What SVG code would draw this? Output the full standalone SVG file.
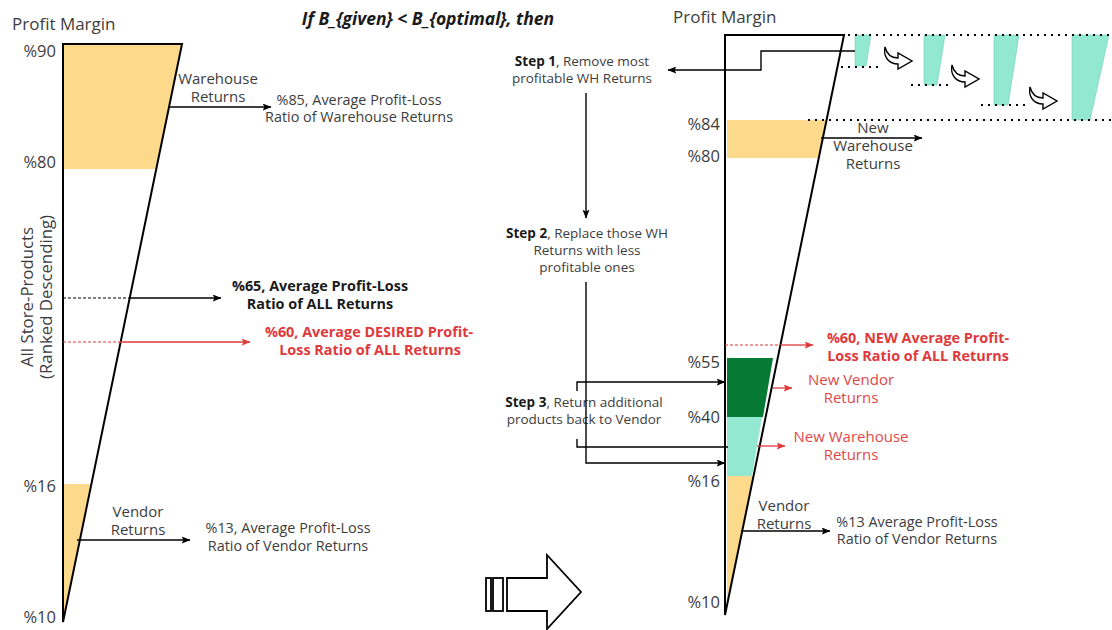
<svg xmlns="http://www.w3.org/2000/svg" width="1112" height="630" viewBox="0 0 1112 630">
<style>
text{font-family:"Open Sans","Noto Sans","Liberation Sans",sans-serif;fill:#3d3d3d}
.ax{font-size:16.5px}
.pm{font-size:17px}
.lb{font-size:15px}
.sm{font-size:14.4px}
.st{font-size:13.5px}
.b{font-weight:bold;fill:#1a1a1a}
.r{fill:#e0393b}
.rn{fill:#e04848}
.c{text-anchor:middle}
.e{text-anchor:end}
.chart{fill:none;stroke:#000;stroke-width:2;stroke-linejoin:miter}
.ln{fill:none;stroke:#000;stroke-width:1.4}
.lr{fill:none;stroke:#e0393b;stroke-width:1.3}
.dash{fill:none;stroke:#000;stroke-width:1.2;stroke-dasharray:3 2}
.dashr{fill:none;stroke:#e0393b;stroke-width:1.1;stroke-dasharray:3 2}
.dot{fill:none;stroke:#000;stroke-width:2;stroke-dasharray:2 5}
.yel{fill:#fdd98b}
.teal{fill:#92e8d0;stroke:#70cdb3;stroke-width:0.6}
.dg{fill:#067a35}
.curv{fill:#fff;stroke:#000;stroke-width:1.4;stroke-linejoin:miter}
</style>
<defs>
<marker id="ah" viewBox="0 0 10 8" refX="9.5" refY="4" markerWidth="9" markerHeight="7" markerUnits="userSpaceOnUse" orient="auto"><path d="M0,0 L10,4 L0,8 L2,4 Z" fill="#000"/></marker>
<marker id="ahr" viewBox="0 0 10 8" refX="9.5" refY="4" markerWidth="9" markerHeight="7" markerUnits="userSpaceOnUse" orient="auto"><path d="M0,0 L10,4 L0,8 L2,4 Z" fill="#e0393b"/></marker>
<path id="curved" d="M2,0 C4,8 9,11 15,11 L15,6 L29,14 L15,22 L15,17 C6,17 0,10 2,0 Z"/>
</defs>

<g id="title">
<text x="428" y="25" class="c" style="font-size:17.5px;font-weight:bold;font-style:italic;fill:#1a1a1a">If B_{given} &lt; B_{optimal}, then</text>
</g>

<g id="left-chart">
<polygon class="yel" points="63,44 182,44 156.3,169 63,169"/>
<polygon class="yel" points="63,484 91.4,484 63,622"/>
<polygon class="chart" points="63,44 182,44 63,622"/>
<text x="12" y="30" class="pm">Profit Margin</text>
<text x="56" y="57" class="ax e">%90</text>
<text x="56" y="168" class="ax e">%80</text>
<text x="56" y="492" class="ax e">%16</text>
<text x="56" y="623" class="ax e">%10</text>
<g transform="translate(0,297) rotate(-90)">
<text x="0" y="33" class="c" style="font-size:16.8px">All Store-Products</text>
<text x="0" y="52" class="c" style="font-size:16.8px">(Ranked Descending)</text>
</g>
</g>

<g id="left-warehouse-label">
<text x="218" y="84" class="lb c">Warehouse</text>
<text x="218" y="102" class="lb c">Returns</text>
</g>
<g id="left-warehouse-avg">
<text x="359" y="105" class="sm c">%85, Average Profit-Loss</text>
<text x="359" y="122" class="sm c">Ratio of Warehouse Returns</text>
</g>
<g id="left-all-avg">
<text x="320" y="291" class="sm c b">%65, Average Profit-Loss</text>
<text x="320" y="309" class="sm c b">Ratio of ALL Returns</text>
</g>
<g id="left-desired-avg">
<text x="369" y="337" class="sm c b r">%60, Average DESIRED Profit-</text>
<text x="370" y="355" class="sm c b r">Loss Ratio of ALL Returns</text>
</g>
<g id="left-vendor-label">
<text x="138" y="517" class="lb c">Vendor</text>
<text x="138" y="535" class="lb c">Returns</text>
</g>
<g id="left-vendor-avg">
<text x="288" y="533" class="sm c">%13, Average Profit-Loss</text>
<text x="288" y="551" class="sm c">Ratio of Vendor Returns</text>
</g>

<g id="right-chart">
<polygon class="yel" points="727,120 826.6,120 818.8,158 727,158"/>
<polygon class="dg" points="727,358 773,358 763,417 727,417"/>
<polygon class="teal" points="727,417 762,417 752,476 727,476" style="stroke:none"/>
<polygon class="yel" points="727,476 753.6,476 728,602 727,602"/>
<polygon class="chart" points="725,35 844,35 725,615"/>
<text x="673" y="23" class="pm">Profit Margin</text>
<text x="720" y="130" class="ax e">%84</text>
<text x="720" y="162" class="ax e">%80</text>
<text x="720" y="368" class="ax e">%55</text>
<text x="720" y="423" class="ax e">%40</text>
<text x="720" y="487" class="ax e">%16</text>
<text x="720" y="608" class="ax e">%10</text>
</g>

<g id="removal-sequence">
<polygon class="teal" points="855,35 871,35 866,66 855,66"/>
<polygon class="teal" points="924,35 945,35 937,85 924,85"/>
<polygon class="teal" points="994,35 1019,35 1008,105 994,105"/>
<polygon class="teal" points="1072,35 1109,35 1090,120 1072,120"/>
<line class="dot" x1="848" y1="35" x2="1112" y2="35"/>
<line class="dot" x1="808" y1="120" x2="1112" y2="120"/>
<line class="dot" x1="841" y1="67" x2="880" y2="67"/>
<line class="dot" x1="911" y1="85" x2="949" y2="85"/>
<line class="dot" x1="981" y1="105" x2="1025" y2="105"/>
<use href="#curved" class="curv" transform="translate(883,47)"/>
<use href="#curved" class="curv" transform="translate(950,65)"/>
<use href="#curved" class="curv" transform="translate(1028,87)"/>
</g>

<g id="right-new-warehouse-label">
<text x="873" y="133" class="lb c">New</text>
<text x="873" y="151" class="lb c">Warehouse</text>
<text x="873" y="169" class="lb c">Returns</text>
</g>

<g id="step1">
<text x="582" y="66" class="st c"><tspan class="b">Step 1</tspan>, Remove most</text>
<text x="582" y="83" class="st c">profitable WH Returns</text>
</g>
<g id="step2">
<text x="587" y="238" class="st c"><tspan class="b">Step 2</tspan>, Replace those WH</text>
<text x="587" y="255" class="st c">Returns with less</text>
<text x="587" y="272" class="st c">profitable ones</text>
</g>
<g id="step3">
<text x="584" y="407" class="st c"><tspan class="b">Step 3</tspan>, Return additional</text>
<text x="584" y="424" class="st c">products back to Vendor</text>
</g>

<g id="right-new-avg">
<text x="918" y="343" class="sm c b r">%60, NEW Average Profit-</text>
<text x="918" y="361" class="sm c b r">Loss Ratio of ALL Returns</text>
</g>
<g id="right-new-vendor">
<text x="851" y="385" class="lb c rn">New Vendor</text>
<text x="851" y="403" class="lb c rn">Returns</text>
</g>
<g id="right-new-wh">
<text x="851" y="442" class="lb c rn">New Warehouse</text>
<text x="851" y="460" class="lb c rn">Returns</text>
</g>
<g id="right-vendor-label">
<text x="784" y="511" class="lb c">Vendor</text>
<text x="784" y="529" class="lb c">Returns</text>
</g>
<g id="right-vendor-avg">
<text x="917" y="527" class="sm c">%13 Average Profit-Loss</text>
<text x="917" y="544" class="sm c">Ratio of Vendor Returns</text>
</g>

<g id="transition-arrow">
<rect x="486" y="578" width="5" height="33" fill="#fff" stroke="#000" stroke-width="1.8"/>
<rect x="493" y="578" width="10" height="33" fill="#fff" stroke="#000" stroke-width="1.8"/>
<polygon points="507,578 547,578 547,555 581,592 547,629 547,611 507,611" fill="#fff" stroke="#000" stroke-width="1.8"/>
</g>

<g id="connectors">
<line class="ln" x1="169" y1="107" x2="271" y2="107" marker-end="url(#ah)"/>
<line class="dash" x1="63" y1="298" x2="129" y2="298"/>
<line class="ln" x1="129" y1="298" x2="221" y2="298" marker-end="url(#ah)"/>
<line class="dashr" x1="63" y1="342" x2="120" y2="342"/>
<line class="lr" x1="120" y1="342" x2="250" y2="342" marker-end="url(#ahr)"/>
<line class="ln" x1="77" y1="540" x2="190" y2="540" marker-end="url(#ah)"/>

<polyline class="ln" points="855,51 761,51 761,70 668,70" marker-end="url(#ah)"/>
<line class="ln" x1="821" y1="138" x2="922" y2="138" marker-end="url(#ah)"/>
<line class="ln" x1="586" y1="93" x2="586" y2="218" marker-end="url(#ah)"/>
<polyline class="ln" points="586,282 586,463 725,463" marker-end="url(#ah)"/>
<polyline class="ln" points="577,391 577,382 725,382" marker-end="url(#ah)"/>
<polyline class="ln" points="577,439 577,447 728,447"/>
<line class="dashr" x1="725" y1="345" x2="781" y2="345"/>
<line class="lr" x1="781" y1="345" x2="813" y2="345" marker-end="url(#ahr)"/>
<line class="lr" x1="773" y1="388" x2="792" y2="388" marker-end="url(#ahr)"/>
<line class="lr" x1="757" y1="446" x2="785" y2="446" marker-end="url(#ahr)"/>
<line class="ln" x1="741" y1="531" x2="830" y2="531" marker-end="url(#ah)"/>
</g>
</svg>
